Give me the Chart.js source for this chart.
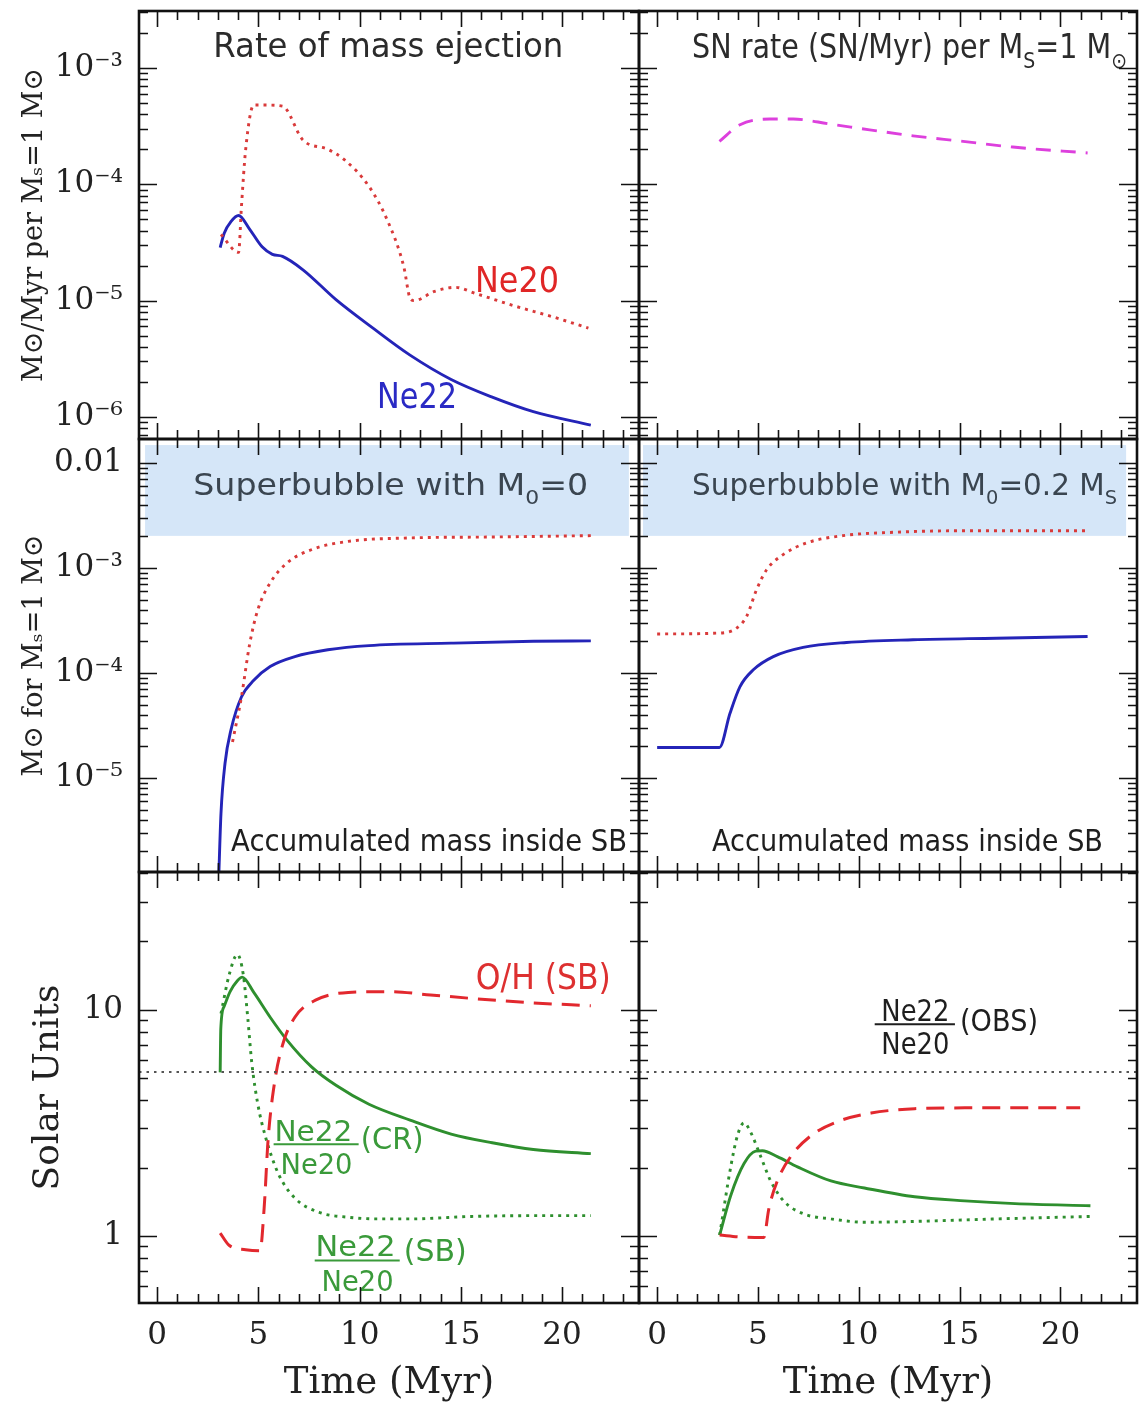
<!DOCTYPE html>
<html>
<head>
<meta charset="utf-8">
<title>Ne22 / Ne20 superbubble model</title>
<script src="https://cdn.jsdelivr.net/npm/chart.js@4.4.1/dist/chart.umd.min.js"></script>
<style>
  html, body { margin: 0; padding: 0; background: #ffffff; }
  #wrap { position: relative; width: 1139px; height: 1406px; overflow: hidden; background: #ffffff; }
  #wrap canvas { position: absolute; left: 0; top: 0; }
</style>
</head>
<body>
<div id="wrap"></div>
<script>
// ================= DATA =================
const timeRange = [-0.9, 23.8];
const timeTicks = [0, 5, 10, 15, 20];

const rateRange = [6.46e-7, 3.09e-3];
const rateTicks = [1e-6, 1e-5, 1e-4, 1e-3];
const rateTickLabels = ['10⁻⁶', '10⁻⁵', '10⁻⁴', '10⁻³'];

const massRange = [1.27e-6, 1.69e-2];
const massTicks = [1e-5, 1e-4, 1e-3, 1e-2];
const massTickLabels = ['10⁻⁵', '10⁻⁴', '10⁻³', '0.01'];

const solarRange = [0.506, 40.5];
const solarTicks = [1, 10];
const solarTickLabels = ['1', '10'];

// Top-left: rate of mass ejection (Msun/Myr per Ms = 1 Msun)
const ejNe22Time = [3.11, 3.31, 3.65, 4.02, 4.57, 5.18, 5.69, 6.19, 7.2, 8.83, 10.66, 12.49, 14.52, 16.55, 18.58, 21.42];
const ejNe22Val  = [2.86e-5, 3.8e-5, 4.8e-5, 5.4e-5, 4.1e-5, 2.9e-5, 2.5e-5, 2.4e-5, 1.84e-5, 1.02e-5, 5.8e-6, 3.4e-6, 2.1e-6, 1.48e-6, 1.11e-6, 8.5e-7];
const ejNe20Time = [3.15, 4.02, 4.16, 4.37, 4.77, 5.38, 6.19, 7.2, 8.43, 9.24, 10.46, 11.37, 12.18, 12.49, 12.69, 13.7, 14.72, 15.74, 17.56, 19.6, 21.3];
const ejNe20Val  = [3.7e-5, 2.6e-5, 6.4e-5, 2.0e-4, 4.8e-4, 4.8e-4, 4.7e-4, 2.4e-4, 2.0e-4, 1.63e-4, 9.6e-5, 4.9e-5, 1.96e-5, 1.05e-5, 1.0e-5, 1.2e-5, 1.3e-5, 1.15e-5, 9.1e-6, 7.2e-6, 5.8e-6];

// Top-right: SN rate (SN/Myr) per Ms = 1 Msun
const snTime = [3.09, 4.11, 5.59, 6.75, 8.56, 10.54, 12.69, 15.17, 17.64, 21.35];
const snVal  = [2.34e-4, 3.25e-4, 3.64e-4, 3.64e-4, 3.3e-4, 2.94e-4, 2.61e-4, 2.34e-4, 2.09e-4, 1.86e-4];

// Middle-left: accumulated mass, M0 = 0
const acc0Ne22Time = [3.03, 3.15, 3.35, 3.65, 4.16, 4.77, 5.58, 6.8, 8.43, 10.46, 14.52, 18.58, 21.42];
const acc0Ne22Val  = [1e-6, 4.6e-6, 1.38e-5, 2.9e-5, 5.9e-5, 8.5e-5, 1.15e-4, 1.43e-4, 1.66e-4, 1.82e-4, 1.92e-4, 2.0e-4, 2.02e-4];
const acc0Ne20Time = [3.72, 4.16, 4.57, 4.97, 5.58, 6.4, 7.61, 9.44, 12.49, 16.55, 21.42];
const acc0Ne20Val  = [2.2e-5, 5.9e-5, 1.9e-4, 4.0e-4, 7.2e-4, 1.11e-3, 1.49e-3, 1.79e-3, 1.93e-3, 1.97e-3, 2.03e-3];

// Middle-right: accumulated mass, M0 = 0.2 Ms
const acc2Ne20Time = [0, 3.12, 3.94, 4.44, 4.93, 5.43, 6.25, 7.41, 9.22, 11.86, 15.17, 21.35];
const acc2Ne20Val  = [2.35e-4, 2.4e-4, 2.67e-4, 3.46e-4, 6.2e-4, 9.6e-4, 1.34e-3, 1.73e-3, 2.03e-3, 2.19e-3, 2.26e-3, 2.26e-3];
const acc2Ne22Time = [0, 3.09, 3.61, 4.11, 4.77, 5.76, 7.24, 9.39, 12.69, 16.82, 21.35];
const acc2Ne22Val  = [1.95e-5, 1.95e-5, 4.1e-5, 7.4e-5, 1.07e-4, 1.43e-4, 1.75e-4, 1.95e-4, 2.07e-4, 2.14e-4, 2.22e-4];

// Bottom-left: solar units, M0 = 0
const cr0Time = [3.11, 3.14, 3.3, 3.6, 3.96, 4.2, 4.77, 5.58, 6.4, 7.61, 8.83, 10.46, 12.49, 14.52, 16.55, 18.58, 21.42];
const cr0Val  = [5.28, 8.2, 10.3, 12.0, 13.4, 13.9, 11.9, 9.25, 7.35, 5.6, 4.63, 3.82, 3.25, 2.82, 2.58, 2.41, 2.31];
const sb0Time = [3.15, 3.55, 3.96, 4.26, 4.47, 4.67, 4.97, 5.38, 5.99, 6.8, 8.02, 9.44, 10.86, 12.49, 15.53, 18.58, 21.42];
const sb0Val  = [9.6, 14.2, 17.5, 14.1, 9.25, 5.84, 3.82, 2.68, 1.88, 1.47, 1.27, 1.21, 1.19, 1.19, 1.22, 1.23, 1.23];
const oh0Time = [3.11, 3.55, 4.37, 5.08, 5.28, 5.48, 5.79, 6.19, 6.8, 7.82, 9.44, 11.47, 13.5, 15.53, 18.58, 21.42];
const oh0Val  = [1.03, 0.91, 0.87, 0.86, 1.32, 2.68, 4.72, 6.97, 9.25, 11.0, 11.9, 12.0, 11.6, 11.2, 10.7, 10.4];

// Bottom-right: solar units, M0 = 0.2 Ms
const cr2Time = [3.1, 3.65, 4.31, 4.89, 5.22, 5.96, 6.96, 8.62, 10.28, 12.77, 15.26, 17.75, 21.49];
const cr2Val  = [1.01, 1.51, 2.09, 2.37, 2.38, 2.24, 2.02, 1.75, 1.63, 1.49, 1.43, 1.39, 1.36];
const sb2Time = [3.1, 3.65, 3.98, 4.31, 4.64, 5.14, 5.63, 6.3, 7.29, 8.62, 10.28, 12.77, 16.9, 21.49];
const sb2Val  = [1.01, 2.02, 2.77, 3.16, 2.87, 2.24, 1.75, 1.42, 1.25, 1.19, 1.15, 1.16, 1.19, 1.22];
const oh2Time = [3.1, 4.13, 5.29, 5.54, 5.96, 6.62, 7.62, 8.95, 10.61, 12.77, 15.26, 20.98];
const oh2Val  = [1.01, 0.99, 0.985, 1.32, 1.75, 2.24, 2.77, 3.2, 3.49, 3.65, 3.68, 3.68];

// Observed Ne22/Ne20 ratio (solar units)
const obsRatio = 5.3;

// ================= STYLE / HELPERS =================
const SERIF = "'DejaVu Serif', 'Liberation Serif', serif";
const SANS = "'DejaVu Sans', 'Liberation Sans', sans-serif";
const C_BLUE = '#2424b8', C_RED = '#d93a3a', C_REDDASH = '#e2282e', C_MAG = '#dd40dd', C_GREEN = '#2e8f2e', C_TXT = '#222222';

function series(ts, vs, color, dash, width) {
  return {
    data: ts.map((t, i) => ({ x: t, y: vs[i] })),
    borderColor: color, borderDash: dash || [], borderWidth: width || 2.9,
    pointRadius: 0, fill: false, cubicInterpolationMode: 'monotone', borderCapStyle: 'butt'
  };
}
const DOT = [3, 5];
const DASH = [18, 10];

function drawRich(ctx, px, py, segs, size, color, targetW) {
  const parts = segs.map(([t, m]) => {
    const s = m ? size * 0.66 : size;
    ctx.font = s + 'px ' + SANS;
    return { t, m, s, w: ctx.measureText(t).width };
  });
  const W = parts.reduce((a, p) => a + p.w, 0);
  const sx = targetW ? targetW / W : 1;
  ctx.save();
  ctx.translate(px, py);
  ctx.scale(sx, 1);
  ctx.fillStyle = color; ctx.textAlign = 'left'; ctx.textBaseline = 'alphabetic';
  let cx = 0;
  for (const p of parts) {
    ctx.font = p.s + 'px ' + SANS;
    const dy = p.m === 1 ? size * 0.3 : (p.m === 2 ? -size * 0.4 : 0);
    ctx.fillText(p.t, cx, dy);
    cx += p.w;
  }
  ctx.restore();
}

// Panels
const panels = [
  { id: 'tl', pad: { left: 0, top: 11, right: 500, bottom: 967 }, range: rateRange, ticks: rateTicks, labels: rateTickLabels,
    yTitle: 'M⊙/Myr per Mₛ=1 M⊙', yTitleSize: 27, yTitlePad: 19, xAxis: false,
    datasets: [series(ejNe20Time, ejNe20Val, C_RED, DOT), series(ejNe22Time, ejNe22Val, C_BLUE)],
    notes: [
      { k: 't', x: 2.77, y: 1.245e-3, segs: [['Rate of mass ejection', 0]], size: 33, w: 350, color: '#2b2b2b' },
      { k: 't', x: 15.70, y: 1.186e-5, segs: [['Ne20', 0]], size: 35, w: 84, color: '#e02626' },
      { k: 't', x: 10.86, y: 1.19e-6, segs: [['Ne22', 0]], size: 35, w: 80, color: '#2a2ac4' }
    ] },
  { id: 'tr', pad: { left: 639, top: 11, right: 2, bottom: 967 }, range: rateRange, xAxis: false,
    datasets: [series(snTime, snVal, C_MAG, [15, 10])],
    notes: [
      { k: 't', x: 1.73, y: 1.22e-3, segs: [['SN rate (SN/Myr) per M', 0], ['S', 1], ['=1 M', 0], ['⊙', 1]], size: 33, w: 435, color: '#2b2b2b' }
    ] },
  { id: 'ml', pad: { left: 0, top: 439, right: 500, bottom: 534 }, range: massRange, ticks: massTicks, labels: massTickLabels,
    yTitle: 'M⊙ for Mₛ=1 M⊙', yTitleSize: 27, yTitlePad: 19, xAxis: false,
    band: [-0.6, 23.3, 2.02e-3, 1.48e-2],
    datasets: [series(acc0Ne20Time, acc0Ne20Val, C_RED, DOT), series(acc0Ne22Time, acc0Ne22Val, C_BLUE)],
    notes: [
      { k: 't', x: 1.78, y: 4.96e-3, segs: [['Superbubble with M', 0], ['0', 1], ['=0', 0]], size: 30, w: 395, color: '#3a4550' },
      { k: 't', x: 3.65, y: 2.02e-6, segs: [['Accumulated mass inside SB', 0]], size: 31, w: 396, color: '#1e1e1e' }
    ] },
  { id: 'mr', pad: { left: 639, top: 439, right: 2, bottom: 534 }, range: massRange, xAxis: false,
    band: [-0.7, 23.26, 2.02e-3, 1.48e-2],
    datasets: [series(acc2Ne20Time, acc2Ne20Val, C_RED, DOT), series(acc2Ne22Time, acc2Ne22Val, C_BLUE)],
    notes: [
      { k: 't', x: 1.73, y: 4.96e-3, segs: [['Superbubble with M', 0], ['0', 1], ['=0.2 M', 0], ['S', 1]], size: 30, w: 425, color: '#3a4550' },
      { k: 't', x: 2.72, y: 2.02e-6, segs: [['Accumulated mass inside SB', 0]], size: 31, w: 391, color: '#1e1e1e' }
    ] },
  { id: 'bl', pad: { left: 0, top: 872, right: 500, bottom: 0 }, range: solarRange, ticks: solarTicks, labels: solarTickLabels,
    yTitle: 'Solar Units', yTitleSize: 36, yTitlePad: 27, xAxis: true,
    datasets: [
      series(timeRange, [obsRatio, obsRatio], '#555555', [2.5, 5], 2.2),
      series(oh0Time, oh0Val, C_REDDASH, DASH, 3),
      series(sb0Time, sb0Val, C_GREEN, DOT),
      series(cr0Time, cr0Val, C_GREEN)
    ],
    notes: [
      { k: 't', x: 15.74, y: 12.27, segs: [['O/H (SB)', 0]], size: 35, w: 135, color: '#dd3030' },
      { k: 't', x: 5.79, y: 2.63, segs: [['Ne22', 0]], size: 29, w: 78, color: '#3a9a3a' },
      { k: 'l', x0: 5.75, x1: 9.95, y: 2.54, color: '#3a9a3a' },
      { k: 't', x: 6.09, y: 1.88, segs: [['Ne20', 0]], size: 29, w: 72, color: '#3a9a3a' },
      { k: 't', x: 10.05, y: 2.41, segs: [['(CR)', 0]], size: 30, w: 63, color: '#3a9a3a' },
      { k: 't', x: 7.82, y: 0.817, segs: [['Ne22', 0]], size: 29, w: 80, color: '#3a9a3a' },
      { k: 'l', x0: 7.78, x1: 11.98, y: 0.78, color: '#3a9a3a' },
      { k: 't', x: 8.12, y: 0.573, segs: [['Ne20', 0]], size: 29, w: 72, color: '#3a9a3a' },
      { k: 't', x: 12.18, y: 0.774, segs: [['(SB)', 0]], size: 30, w: 63, color: '#3a9a3a' }
    ] },
  { id: 'br', pad: { left: 639, top: 872, right: 2, bottom: 0 }, range: solarRange, xAxis: true,
    datasets: [
      series(timeRange, [obsRatio, obsRatio], '#555555', [2.5, 5], 2.2),
      series(oh2Time, oh2Val, C_REDDASH, DASH, 3),
      series(sb2Time, sb2Val, C_GREEN, DOT),
      series(cr2Time, cr2Val, C_GREEN)
    ],
    notes: [
      { k: 't', x: 11.12, y: 8.87, segs: [['Ne22', 0]], size: 30, w: 68, color: '#1e1e1e' },
      { k: 'l', x0: 10.79, x1: 14.77, y: 8.62, color: '#1e1e1e' },
      { k: 't', x: 11.12, y: 6.38, segs: [['Ne20', 0]], size: 30, w: 68, color: '#1e1e1e' },
      { k: 't', x: 15.02, y: 8.03, segs: [['(OBS)', 0]], size: 30, w: 78, color: '#1e1e1e' }
    ] }
];
const PANEL = {};
panels.forEach(p => PANEL[p.id] = p);

// ================= PLUGINS =================
const decoPlugin = {
  id: 'deco',
  beforeDatasetsDraw(chart) {
    const p = PANEL[chart.canvas.id];
    if (!p.band) return;
    const { ctx, scales: { x, y } } = chart;
    const b = p.band;
    const x0 = x.getPixelForValue(b[0]), x1 = x.getPixelForValue(b[1]);
    const yT = y.getPixelForValue(b[3]), yB = y.getPixelForValue(b[2]);
    ctx.save();
    ctx.fillStyle = '#d5e6f8';
    ctx.fillRect(x0, yT, x1 - x0, yB - yT);
    ctx.restore();
  },
  afterDatasetsDraw(chart) {
    const p = PANEL[chart.canvas.id];
    const { ctx, chartArea: a, scales: { x, y } } = chart;
    for (const n of p.notes || []) {
      if (n.k === 't') {
        drawRich(ctx, x.getPixelForValue(n.x), y.getPixelForValue(n.y), n.segs, n.size, n.color, n.w);
      } else if (n.k === 'l') {
        const py = y.getPixelForValue(n.y);
        ctx.save(); ctx.strokeStyle = n.color; ctx.lineWidth = 2;
        ctx.beginPath(); ctx.moveTo(x.getPixelForValue(n.x0), py); ctx.lineTo(x.getPixelForValue(n.x1), py); ctx.stroke();
        ctx.restore();
      }
    }
    // inward ticks on all four sides + frame
    ctx.save();
    ctx.strokeStyle = '#111111';
    ctx.lineWidth = 1.6;
    ctx.beginPath();
    for (let v = Math.ceil(x.min); v <= x.max; v++) {
      const px = Math.round(x.getPixelForValue(v)) + 0.5;
      const L = v % 5 === 0 ? 16 : 9;
      ctx.moveTo(px, a.top); ctx.lineTo(px, a.top + L);
      ctx.moveTo(px, a.bottom); ctx.lineTo(px, a.bottom - L);
    }
    const d0 = Math.floor(Math.log10(y.min)), d1 = Math.ceil(Math.log10(y.max));
    for (let d = d0; d <= d1; d++) {
      for (let m = 1; m <= 9; m++) {
        const v = m * Math.pow(10, d);
        if (v < y.min || v > y.max) continue;
        const py = Math.round(y.getPixelForValue(v)) + 0.5;
        const L = m === 1 ? 18 : 9;
        ctx.moveTo(a.left, py); ctx.lineTo(a.left + L, py);
        ctx.moveTo(a.right, py); ctx.lineTo(a.right - L, py);
      }
    }
    ctx.stroke();
    ctx.lineWidth = 2.6;
    ctx.strokeRect(a.left, a.top, a.right - a.left, a.bottom - a.top);
    ctx.restore();
  }
};

// ================= CHARTS =================
const wrap = document.getElementById('wrap');
panels.forEach(p => {
  const cv = document.createElement('canvas');
  cv.id = p.id; cv.width = 1139; cv.height = 1406;
  wrap.appendChild(cv);

  const yScale = {
    type: 'logarithmic', min: p.range[0], max: p.range[1],
    display: !!p.ticks,
    grid: { display: false, drawTicks: false }, border: { display: false },
    afterFit: s => { s.width = p.ticks ? 139 : 0; s.paddingTop = 0; s.paddingBottom = 0; },
    afterBuildTicks: s => { if (p.ticks) s.ticks = p.ticks.map(v => ({ value: v })); },
    ticks: {
      autoSkip: false, padding: 16, color: C_TXT,
      font: { family: SERIF, size: 31 },
      callback: v => p.ticks ? p.labels[p.ticks.indexOf(v)] : ''
    },
    title: {
      display: !!p.yTitle, text: p.yTitle || '', color: C_TXT,
      font: { family: SERIF, size: p.yTitleSize || 27 },
      padding: { top: p.yTitlePad || 19, bottom: 0 }
    }
  };
  const xScale = {
    type: 'linear', min: timeRange[0], max: timeRange[1],
    display: p.xAxis,
    grid: { display: false, drawTicks: false }, border: { display: false },
    afterFit: s => { s.height = p.xAxis ? 103 : 0; s.paddingLeft = 0; s.paddingRight = 0; },
    afterBuildTicks: s => { s.ticks = timeTicks.map(v => ({ value: v })); },
    ticks: { autoSkip: false, maxRotation: 0, padding: 14, color: C_TXT, font: { family: SERIF, size: 31 } },
    title: { display: p.xAxis, text: 'Time (Myr)', color: C_TXT, font: { family: SERIF, size: 37 }, padding: { top: 0, bottom: 0 } }
  };

  new Chart(cv, {
    type: 'line',
    data: { datasets: p.datasets },
    options: {
      responsive: false, animation: false, devicePixelRatio: 1, events: [],
      layout: { padding: p.pad },
      plugins: { legend: { display: false }, tooltip: { enabled: false } },
      scales: { x: xScale, y: yScale }
    },
    plugins: [decoPlugin]
  });
});
</script>
</body>
</html>
